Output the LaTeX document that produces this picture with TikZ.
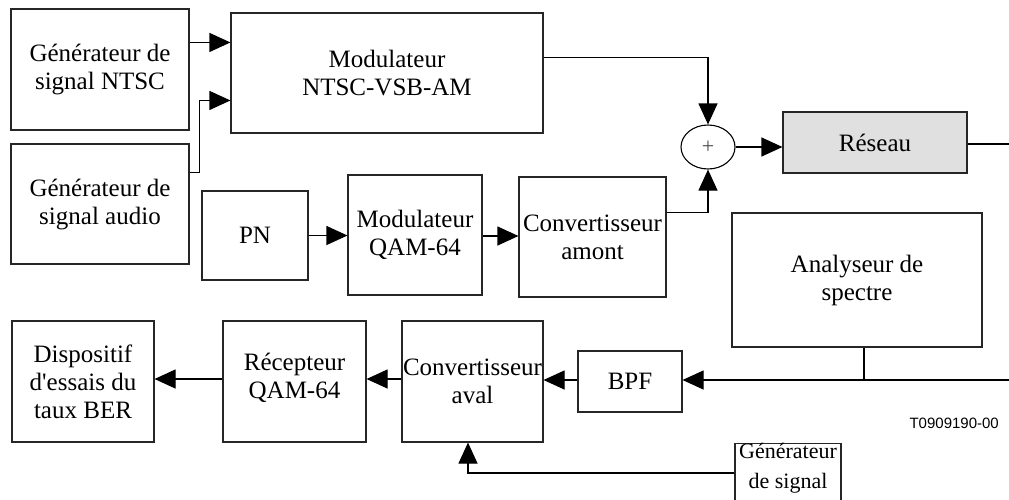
\documentclass[tikz,border=0pt]{standalone}
\usepackage{fontspec}
\setmainfont{Liberation Serif}
\newfontfamily\labfont{Liberation Sans}
\usetikzlibrary{arrows.meta,shapes.geometric,calc}
\begin{document}
\begin{tikzpicture}[x=1pt,y=-1pt,
  box/.style={draw=black!85,line width=1.1pt,rectangle,inner sep=0pt,align=center,font=\fontsize{25}{28}\selectfont},
  arr/.style={line width=1.1pt,-{Triangle[length=21pt,width=19pt]}},
  ln/.style={line width=1.1pt}]
\useasboundingbox (0,0) rectangle (1009,499);
\clip (0,0) rectangle (1009,499);
% nodes
\node[box,minimum width=178pt,minimum height=121pt] (gntsc) at (100,69.5) {Générateur de\\signal NTSC};
\node[box,minimum width=178pt,minimum height=120pt] (gaudio) at (100,204) {Générateur de\\signal audio};
\node[box,minimum width=312pt,minimum height=120pt] (modntsc) at (387,73) {Modulateur\\NTSC-VSB-AM};
\node[box,minimum width=106pt,minimum height=89pt] (pn) at (255,235.5) {PN};
\node[box,minimum width=134pt,minimum height=120pt] (modqam) at (415,235) {Modulateur\\QAM-64};
\node[box,minimum width=147pt,minimum height=120pt] (convam) at (592.5,237) {Convertisseur\\amont};
\node[draw=black,line width=1.1pt,ellipse,minimum width=54pt,minimum height=44pt,inner sep=0pt,font=\fontsize{22}{24}\selectfont,text=black!70] (sum) at (708,147) {+};
\node[box,fill=black!12,minimum width=184pt,minimum height=61pt] (reseau) at (875,142.5) {Réseau};
\node[box,minimum width=250pt,minimum height=134pt] (analy) at (857,280) {Analyseur de\\spectre};
\node[box,minimum width=142pt,minimum height=121pt] (disp) at (83,381.5) {Dispositif\\d\textquotesingle essais du\\taux BER};
\node[box,minimum width=143pt,minimum height=121pt,text depth=12pt] (recep) at (294.5,381.5) {Récepteur\\QAM-64};
\node[box,minimum width=141pt,minimum height=121pt] (convav) at (472.5,381.5) {Convertisseur\\aval};
\node[box,minimum width=104pt,minimum height=61pt] (bpf) at (630,381.5) {BPF};
\node[box,minimum width=106pt,minimum height=80pt,anchor=north] (gsig) at (788,443) {};
\node[font=\fontsize{22}{30}\selectfont,align=center,anchor=north,inner sep=0pt] (gsigtxt) at (788,443) {Générateur\\de signal};
\node[font=\labfont\fontsize{15}{18}\selectfont,anchor=east,inner sep=0pt] (tag) at (999,423) {T0909190-00};
% coordinates for free ends
\coordinate (redge) at (1010,144);
\coordinate (redge2) at (1010,380);
% connectors
\draw[arr] ([yshift=-34pt]gntsc.north east) coordinate (a1) -- (a1 -| modntsc.west);
\draw[arr] ([yshift=-29pt]gaudio.north east) -- ++(10,0) |- ([yshift=-88pt]modntsc.north west);
\draw[arr] (pn.east) -- (pn.east -| modqam.west);
\draw[arr] ([yshift=-1pt]modqam.east) coordinate (a2) -- (a2 -| convam.west);
\draw[arr] ([yshift=-45pt]modntsc.north east) -| (sum.north);
\draw[arr] ([yshift=-36pt]convam.north east) -| (sum.south);
\draw[arr] (sum.east) -- (sum.east -| reseau.west);
\draw[ln] (reseau.east |- redge) -- (redge);
\draw[arr] (redge2) -- (redge2 -| bpf.east);
\draw[ln] (analy.south -| 864,0) -- (864,380);
\draw[arr] (bpf.west |- redge2) -- (redge2 -| convav.east);
\draw[arr] (convav.west |- 0,379) -- (recep.east |- 0,379);
\draw[arr] (recep.west |- 0,379) -- (disp.east |- 0,379);
\draw[arr] (gsig.west |- 0,473) -| ([xshift=-4.5pt]convav.south);
\end{tikzpicture}
\end{document}
